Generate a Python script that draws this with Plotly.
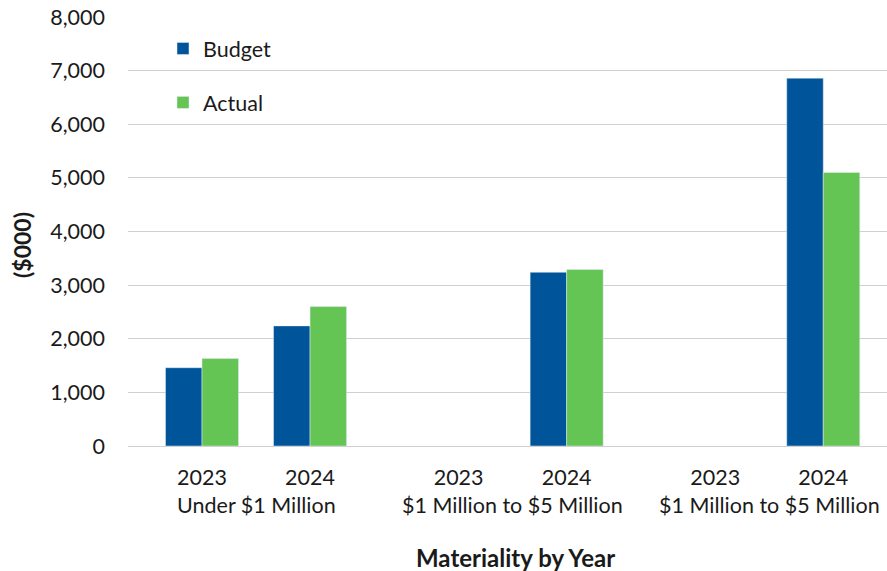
import plotly.graph_objects as go

# Category structure
group_labels = ["Under $1 Million", "$1 Million to $5 Million", "$1 Million to $5 Million"]
years = ["2023", "2024"]

# Values in $000, one entry per (group, year)
budget = [1460, 2240, None, 3240, None, 6860]
actual = [1630, 2600, None, 3290, None, 5100]

# Horizontal layout of the categories: groups are spaced wider than years
group_step = 2.375
x_pos = [g * group_step + j for g in range(len(group_labels)) for j in range(len(years))]
tick_text = [y for _ in group_labels for y in years]

BLUE = "#00549A"
GREEN = "#64C454"
TEXT = "#1a1a1a"
FONT = "Lato"
FS = 21.5
bar_w = 0.338

fig = go.Figure()
fig.add_trace(go.Bar(
    name="Budget", x=x_pos, y=budget, marker_color=BLUE,
    width=bar_w, offset=-bar_w, legendgroup="b",
))
fig.add_trace(go.Bar(
    name="Actual", x=x_pos, y=actual, marker_color=GREEN,
    width=bar_w, offset=0, legendgroup="a",
))

left, right, top, bottom = 128, 0, 17, 125
W, H = 887, 571
pw = W - left - right
ph = H - top - bottom

# Group labels under the year ticks
for g, label in enumerate(group_labels):
    fig.add_annotation(
        x=g * group_step + 0.5, xref="x", y=0, yref="paper",
        yanchor="middle", yshift=-(505 - (H - bottom)), text=label, showarrow=False,
        font=dict(family=FONT, size=FS, color=TEXT),
    )

# Axis titles
fig.add_annotation(
    x=(515 - left) / pw, xref="paper", y=0, yref="paper",
    yanchor="middle", yshift=-(557 - (H - bottom)), text="<b>Materiality by Year</b>",
    showarrow=False, font=dict(family=FONT, size=24, color=TEXT),
)
fig.add_annotation(
    x=(22 - left) / pw, xref="paper", y=((H - bottom) - 245) / ph, yref="paper",
    xanchor="center", yanchor="middle",
    text="<b>($000)</b>", textangle=-90, showarrow=False,
    font=dict(family=FONT, size=23, color=TEXT),
)

fig.update_layout(
    width=W, height=H,
    margin=dict(l=left, r=right, t=top, b=bottom),
    paper_bgcolor="white", plot_bgcolor="white",
    barmode="group",
    showlegend=True,
    legend=dict(
        x=(163 - left) / pw, y=1 - (28 - top) / ph, xanchor="left", yanchor="top",
        bgcolor="rgba(0,0,0,0)", font=dict(family=FONT, size=FS, color=TEXT),
        tracegroupgap=23, itemwidth=30,
    ),
    font=dict(family=FONT, color=TEXT),
)
fig.update_xaxes(
    range=[-0.685, 6.34], tickvals=x_pos, ticktext=tick_text,
    showgrid=False, zeroline=False, showline=False, ticks="",
    tickfont=dict(family=FONT, size=FS, color=TEXT), ticklabelstandoff=16,
)
fig.update_yaxes(
    range=[0, 8000], dtick=1000, tickformat=",d",
    showgrid=True, gridcolor="#D0D0D0", gridwidth=1.3,
    zeroline=True, zerolinecolor="#D0D0D0", zerolinewidth=1.3,
    showline=False, ticks="",
    tickfont=dict(family=FONT, size=FS, color=TEXT), ticklabelstandoff=22,
)

fig.write_html("out.html")
